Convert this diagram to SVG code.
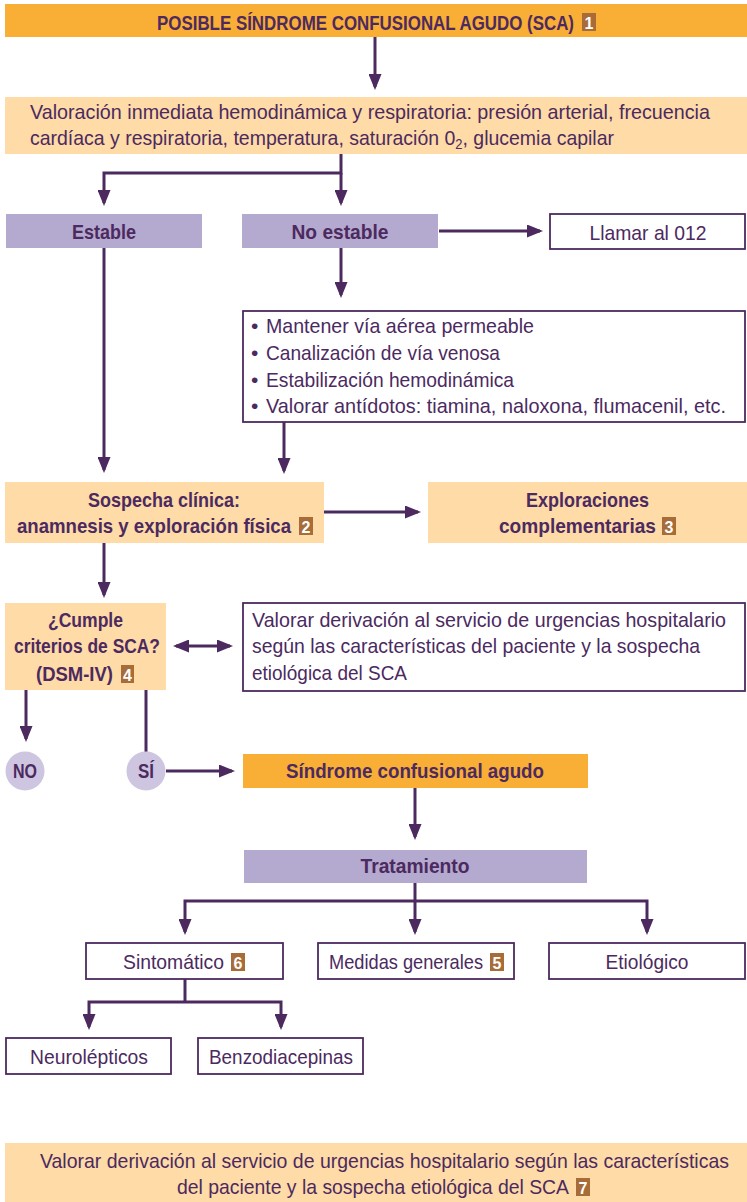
<svg xmlns="http://www.w3.org/2000/svg" width="747" height="1202" viewBox="0 0 747 1202">
  <defs>
    <style>
      .t { font-family: "Liberation Sans Narrow", "Liberation Sans", Arial, sans-serif; font-size: 21px; fill: #4C2A5F; }
      .b { font-weight: bold; }
      .c { text-anchor: middle; }
      .orange { fill: #F9AE36; }
      .peach { fill: #FEDBA7; }
      .lav { fill: #B4A9CE; }
      .white { fill: #FFFFFF; stroke: #4C2A5F; stroke-width: 1.8; }
      .circ { fill: #CEC5E0; }
      .badge { fill: #A86C38; }
      .bt { font-family: "Liberation Sans Narrow", "Liberation Sans", Arial, sans-serif; font-size: 16px; font-weight: bold; fill: #FFFFFF; text-anchor: middle; }
      .conn { fill: none; stroke: #4C2A5F; stroke-width: 3; }
    </style>
    <marker id="arrow" viewBox="0 0 16 13" refX="13" refY="6.5" markerWidth="16" markerHeight="13" markerUnits="userSpaceOnUse" orient="auto-start-reverse">
      <path d="M0,0 L16,6.5 L0,13 z" fill="#4C2A5F"/>
    </marker>
  </defs>
  <rect width="747" height="1202" fill="#FFFFFF"/>

  <!-- connectors -->
  <g id="connectors" class="conn">
    <path d="M375,37 V87" marker-end="url(#arrow)"/>
    <path d="M341,154 V173 H104 V203" marker-end="url(#arrow)"/>
    <path d="M341,173 V203" marker-end="url(#arrow)"/>
    <path d="M439,231 H540" marker-end="url(#arrow)"/>
    <path d="M341,248 V295" marker-end="url(#arrow)"/>
    <path d="M104,248 V470" marker-end="url(#arrow)"/>
    <path d="M284,422 V471" marker-end="url(#arrow)"/>
    <path d="M324,512 H418" marker-end="url(#arrow)"/>
    <path d="M104,543 V595" marker-end="url(#arrow)"/>
    <path d="M176,646 H230" marker-start="url(#arrow)" marker-end="url(#arrow)"/>
    <path d="M26,690 V739" marker-end="url(#arrow)"/>
    <path d="M146,690 V752"/>
    <path d="M166,771 H232" marker-end="url(#arrow)"/>
    <path d="M415,788 V837" marker-end="url(#arrow)"/>
    <path d="M415,883 V932" marker-end="url(#arrow)"/>
    <path d="M185,932 V901 H647 V932" marker-start="url(#arrow)" marker-end="url(#arrow)"/>
    <path d="M185,979 V1002"/>
    <path d="M89,1027 V1002 H281 V1027" marker-start="url(#arrow)" marker-end="url(#arrow)"/>
  </g>

  <g id="n-posible">
    <rect class="orange" x="5" y="4" width="742" height="33"/>
    <text class="t b" x="157" y="30" textLength="417" lengthAdjust="spacingAndGlyphs">POSIBLE SÍNDROME CONFUSIONAL AGUDO (SCA)</text>
    <rect class="badge" x="582" y="13" width="14" height="18"/>
    <text class="bt" x="589" y="28.5">1</text>
  </g>

  <g id="n-valoracion">
    <rect class="peach" x="5" y="97" width="742" height="57"/>
    <text class="t" x="30" y="119" textLength="680" lengthAdjust="spacingAndGlyphs">Valoración inmediata hemodinámica y respiratoria: presión arterial, frecuencia</text>
    <text class="t" x="30" y="145" textLength="584" lengthAdjust="spacingAndGlyphs">cardíaca y respiratoria, temperatura, saturación 0<tspan dy="4" font-size="14">2</tspan><tspan dy="-4">, glucemia capilar</tspan></text>
  </g>

  <g id="n-estable">
    <rect class="lav" x="6" y="214" width="196" height="34"/>
    <text class="t b c" x="104" y="239" textLength="64" lengthAdjust="spacingAndGlyphs">Estable</text>
  </g>

  <g id="n-noestable">
    <rect class="lav" x="242" y="214" width="196" height="34"/>
    <text class="t b c" x="340" y="239" textLength="97" lengthAdjust="spacingAndGlyphs">No estable</text>
  </g>

  <g id="n-llamar">
    <rect class="white" x="550" y="214" width="195" height="35"/>
    <text class="t c" x="648" y="240" textLength="117" lengthAdjust="spacingAndGlyphs">Llamar al 012</text>
  </g>

  <g id="n-medidas-urgentes">
    <rect class="white" x="243" y="311" width="502" height="111"/>
    <text class="t" x="251" y="333">•</text>
    <text class="t" x="266" y="333" textLength="268" lengthAdjust="spacingAndGlyphs">Mantener vía aérea permeable</text>
    <text class="t" x="251" y="360">•</text>
    <text class="t" x="266" y="360" textLength="234" lengthAdjust="spacingAndGlyphs">Canalización de vía venosa</text>
    <text class="t" x="251" y="387">•</text>
    <text class="t" x="266" y="387" textLength="248" lengthAdjust="spacingAndGlyphs">Estabilización hemodinámica</text>
    <text class="t" x="251" y="413">•</text>
    <text class="t" x="266" y="413" textLength="460" lengthAdjust="spacingAndGlyphs">Valorar antídotos: tiamina, naloxona, flumacenil, etc.</text>
  </g>

  <g id="n-sospecha">
    <rect class="peach" x="5" y="482" width="319" height="61"/>
    <text class="t b" x="88" y="507" textLength="152" lengthAdjust="spacingAndGlyphs">Sospecha clínica:</text>
    <text class="t b" x="17" y="533" textLength="274" lengthAdjust="spacingAndGlyphs">anamnesis y exploración física</text>
    <rect class="badge" x="299" y="517" width="14" height="18"/>
    <text class="bt" x="306" y="532.5">2</text>
  </g>

  <g id="n-exploraciones">
    <rect class="peach" x="428" y="482" width="319" height="61"/>
    <text class="t b" x="526" y="507" textLength="123" lengthAdjust="spacingAndGlyphs">Exploraciones</text>
    <text class="t b" x="499" y="533" textLength="157" lengthAdjust="spacingAndGlyphs">complementarias</text>
    <rect class="badge" x="662" y="517" width="14" height="18"/>
    <text class="bt" x="669" y="532.5">3</text>
  </g>

  <g id="n-cumple">
    <rect class="peach" x="5" y="603" width="161" height="87"/>
    <text class="t b" x="48" y="627" textLength="75" lengthAdjust="spacingAndGlyphs">¿Cumple</text>
    <text class="t b" x="14" y="653" textLength="146" lengthAdjust="spacingAndGlyphs">criterios de SCA?</text>
    <text class="t b" x="36" y="681" textLength="77" lengthAdjust="spacingAndGlyphs">(DSM-IV)</text>
    <rect class="badge" x="121" y="665" width="13" height="18"/>
    <text class="bt" x="127.5" y="680.5">4</text>
  </g>

  <g id="n-valorar-derivacion">
    <rect class="white" x="243" y="603" width="502" height="88"/>
    <text class="t" x="252" y="627" textLength="474" lengthAdjust="spacingAndGlyphs">Valorar derivación al servicio de urgencias hospitalario</text>
    <text class="t" x="252" y="653" textLength="448" lengthAdjust="spacingAndGlyphs">según las características del paciente y la sospecha</text>
    <text class="t" x="252" y="680" textLength="155" lengthAdjust="spacingAndGlyphs">etiológica del SCA</text>
  </g>

  <g id="n-no">
    <circle class="circ" cx="25" cy="771" r="19.5"/>
    <text class="t b c" x="25" y="778" textLength="24" lengthAdjust="spacingAndGlyphs">NO</text>
  </g>

  <g id="n-si">
    <circle class="circ" cx="146" cy="771" r="19.5"/>
    <text class="t b c" x="146" y="778" textLength="16" lengthAdjust="spacingAndGlyphs">SÍ</text>
  </g>

  <g id="n-sindrome">
    <rect class="orange" x="243" y="754" width="345" height="34"/>
    <text class="t b c" x="415" y="778" textLength="258" lengthAdjust="spacingAndGlyphs">Síndrome confusional agudo</text>
  </g>

  <g id="n-tratamiento">
    <rect class="lav" x="244" y="850" width="343" height="33"/>
    <text class="t b c" x="415" y="873" textLength="109" lengthAdjust="spacingAndGlyphs">Tratamiento</text>
  </g>

  <g id="n-sintomatico">
    <rect class="white" x="86" y="943" width="197" height="36"/>
    <text class="t" x="123" y="969" textLength="101" lengthAdjust="spacingAndGlyphs">Sintomático</text>
    <rect class="badge" x="231" y="953" width="14" height="18"/>
    <text class="bt" x="238" y="968.5">6</text>
  </g>

  <g id="n-medidas">
    <rect class="white" x="318" y="943" width="196" height="36"/>
    <text class="t" x="329" y="969" textLength="154" lengthAdjust="spacingAndGlyphs">Medidas generales</text>
    <rect class="badge" x="490" y="953" width="14" height="18"/>
    <text class="bt" x="497" y="968.5">5</text>
  </g>

  <g id="n-etiologico">
    <rect class="white" x="549" y="943" width="196" height="36"/>
    <text class="t c" x="647" y="969" textLength="83" lengthAdjust="spacingAndGlyphs">Etiológico</text>
  </g>

  <g id="n-neurolepticos">
    <rect class="white" x="6" y="1038" width="165" height="36"/>
    <text class="t c" x="89" y="1064" textLength="118" lengthAdjust="spacingAndGlyphs">Neurolépticos</text>
  </g>

  <g id="n-benzodiacepinas">
    <rect class="white" x="198" y="1038" width="165" height="36"/>
    <text class="t c" x="281" y="1064" textLength="144" lengthAdjust="spacingAndGlyphs">Benzodiacepinas</text>
  </g>

  <g id="n-valorar-final">
    <rect class="peach" x="5" y="1143" width="742" height="59"/>
    <text class="t" x="40" y="1168" textLength="689" lengthAdjust="spacingAndGlyphs">Valorar derivación al servicio de urgencias hospitalario según las características</text>
    <text class="t" x="177" y="1194" textLength="392" lengthAdjust="spacingAndGlyphs">del paciente y la sospecha etiológica del SCA</text>
    <rect class="badge" x="576" y="1178" width="14" height="18"/>
    <text class="bt" x="583" y="1193.5">7</text>
  </g>
</svg>
